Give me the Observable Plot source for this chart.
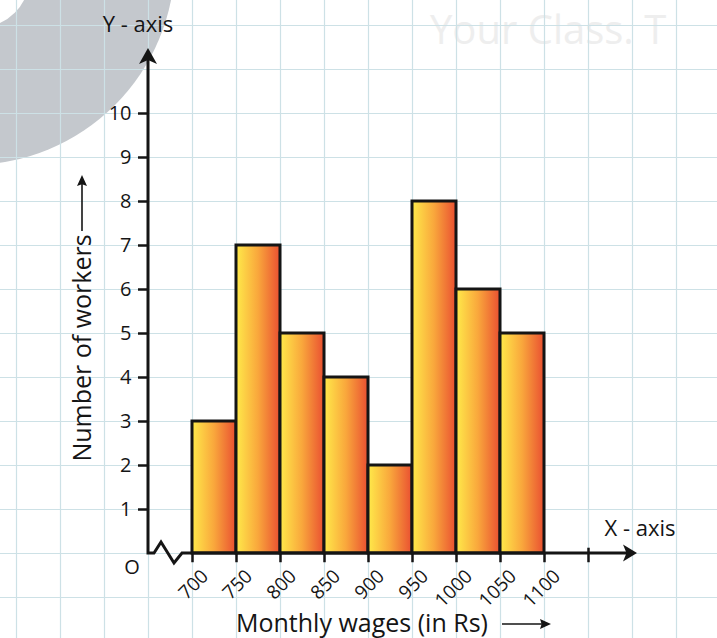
<!DOCTYPE html>
<html>
<head>
<meta charset="utf-8">
<script src="https://cdn.jsdelivr.net/npm/d3@7"></script>
<script src="https://cdn.jsdelivr.net/npm/@observablehq/plot@0.6"></script>
<style>
  html, body { margin: 0; padding: 0; background: #ffffff; }
  #chart svg { display: block; }
</style>
</head>
<body>
<div id="chart"></div>
<script>
// ---- data ----
const wageStarts = [700, 750, 800, 850, 900, 950, 1000, 1050];
const wageEnds   = [750, 800, 850, 900, 950, 1000, 1050, 1100];
const workers    = [3, 7, 5, 4, 2, 8, 6, 5];
const xTickValues = [700, 750, 800, 850, 900, 950, 1000, 1050, 1100];
const xTickLabels = ["700", "750", "800", "850", "900", "950", "1000", "1050", "1100"];
const yTickValues = [1, 2, 3, 4, 5, 6, 7, 8, 9, 10];
const gridX = [450, 500, 550, 600, 650, 700, 750, 800, 850, 900, 950, 1000, 1050, 1100, 1150, 1200, 1250, 1300];
const gridY = [-2, -1, 0, 1, 2, 3, 4, 5, 6, 7, 8, 9, 10, 11, 12, 13];
const extraTick = [1150];

const bins = wageStarts.map((s, i) => ({start: s, end: wageEnds[i], count: workers[i]}));

const FONT = "'Open Sans', 'Noto Sans', sans-serif";
const INK = "#151515";

function stealth(tx, ty, ux, uy, len, half, notch) {
  const bx = tx - ux * len, by = ty - uy * len;
  const px = -uy, py = ux;
  const nx = tx - ux * len * notch, ny = ty - uy * len * notch;
  return `M${tx},${ty}L${bx + px * half},${by + py * half}L${nx},${ny}L${bx - px * half},${by - py * half}Z`;
}

// background watermark (decorative)
function watermark() {
  const g = d3.create("svg:g");
  g.append("circle").attr("cx", -30).attr("cy", -40).attr("r", 205).attr("fill", "#c4c8cd");
  g.append("circle").attr("cx", -22).attr("cy", -24).attr("r", 52).attr("fill", "#ffffff");
  g.append("text").attr("x", 430).attr("y", 44).attr("font-size", 40)
    .attr("text-anchor", "start")
    .attr("font-family", FONT).attr("fill", "#eeeeee").text("Your Class. T");
  return g.node();
}

// gradient definition for bars
function defs() {
  const g = d3.create("svg:defs");
  const lg = g.append("linearGradient").attr("id", "barGrad")
    .attr("x1", "0").attr("y1", "0").attr("x2", "1").attr("y2", "0");
  lg.append("stop").attr("offset", "0%").attr("stop-color", "#ffea4a");
  lg.append("stop").attr("offset", "50%").attr("stop-color", "#f9a73c");
  lg.append("stop").attr("offset", "100%").attr("stop-color", "#e94f31");
  return g.node();
}

// axes lines, arrowheads, labels
function decor(index, scales) {
  const x = scales.x, y = scales.y;
  const x0 = x(650), y0 = y(0);
  const yTip = y(10) - 65;
  const xTip = x(1150) + 49;
  const g = d3.create("svg:g");
  g.append("path")
    .attr("d", `M${x0},${yTip + 10}V${y0}H${x0 + 6}L${x0 + 13},${y0 - 11}L${x0 + 26},${y0 + 10}L${x0 + 34},${y0}H${xTip - 8}`)
    .attr("fill", "none").attr("stroke", INK).attr("stroke-width", 3).attr("stroke-linejoin", "miter");
  g.append("path").attr("d", stealth(x0, yTip, 0, -1, 16, 9, 0.75)).attr("fill", INK);
  g.append("path").attr("d", stealth(xTip, y0, 1, 0, 14, 8.5, 0.75)).attr("fill", INK);

  const txt = (tx, ty, s, size, anchor, rot) => {
    const t = g.append("text").attr("x", tx).attr("y", ty).attr("font-size", size)
      .attr("font-family", FONT).attr("fill", INK).attr("text-anchor", anchor || "middle").text(s);
    if (rot) t.attr("transform", `rotate(${rot},${tx},${ty})`);
    return t;
  };
  txt(x0 - 10, yTip - 16, "Y - axis", 22);
  txt(xTip + 3, y0 - 17, "X - axis", 22);
  txt(x0 - 16, y0 + 21, "O", 20);
  txt(362, 632, "Monthly wages (in Rs)", 25);
  // arrow after x label
  g.append("line").attr("x1", 502).attr("y1", 624).attr("x2", 542).attr("y2", 624)
    .attr("stroke", INK).attr("stroke-width", 1.6);
  g.append("path").attr("d", stealth(551, 624, 1, 0, 11, 5, 0.85)).attr("fill", INK);
  // y label
  txt(91, 348, "Number of workers", 25, "middle", -90);
  g.append("line").attr("x1", 82).attr("y1", 231).attr("x2", 82).attr("y2", 184)
    .attr("stroke", INK).attr("stroke-width", 1.6);
  g.append("path").attr("d", stealth(82, 175, 0, -1, 11, 5, 0.85)).attr("fill", INK);
  return g.node();
}

const chart = Plot.plot({
  width: 717,
  height: 638,
  marginLeft: 148,
  marginRight: 173,
  marginTop: 113,
  marginBottom: 85,
  x: {type: "linear", domain: [650, 1100], axis: null},
  y: {type: "linear", domain: [0, 10]},
  style: {fontFamily: FONT, background: "#ffffff", color: INK},
  marks: [
    watermark,
    Plot.ruleX(gridX, {x: d => d, y1: -2, y2: 13, stroke: "#cde1e6", strokeWidth: 1.2}),
    Plot.ruleY(gridY, {y: d => d, x1: 450, x2: 1300, stroke: "#cde1e6", strokeWidth: 1.2}),
    defs,
    Plot.rectY(bins, {x1: "start", x2: "end", y1: 0, y2: "count", fill: "url(#barGrad)", stroke: INK, strokeWidth: 3}),
    Plot.ruleX(xTickValues, {x: d => d, y1: 0, y2: -0.21, stroke: INK, strokeWidth: 2.5}),
    Plot.ruleX(extraTick, {x: d => d, y1: 0.12, y2: -0.21, stroke: INK, strokeWidth: 2.5}),
    Plot.axisY({ticks: yTickValues, tickSize: 10, tickPadding: 7, fontSize: 20, strokeWidth: 2.5, stroke: INK, fill: INK, label: null, tickFormat: d => String(d)}),
    Plot.text(xTickValues, {x: d => d, y: 0, text: (d, i) => xTickLabels[i], rotate: -45, textAnchor: "end", lineAnchor: "bottom", dx: 17, dy: 24, fontSize: 19, fill: INK}),
    decor
  ]
});
document.getElementById("chart").appendChild(chart);
</script>
</body>
</html>
